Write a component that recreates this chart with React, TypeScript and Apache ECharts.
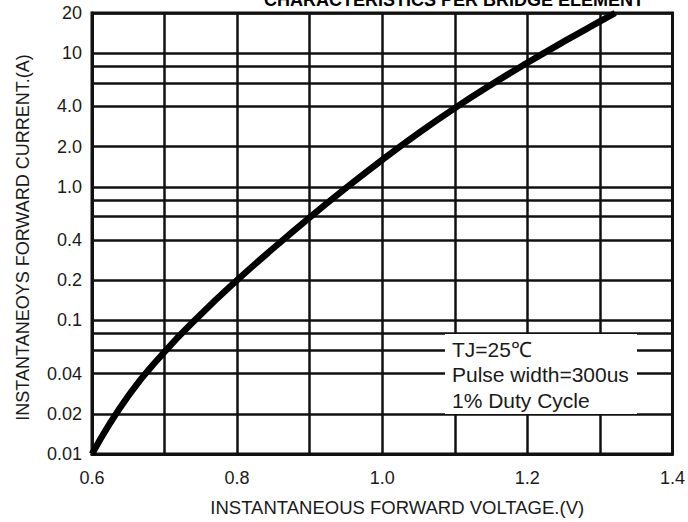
import React, { useEffect, useRef } from 'react';
import * as echarts from 'echarts';

// Forward voltage (V) and instantaneous forward current (A)
const voltage = [0.6, 0.65, 0.7, 0.75, 0.8, 0.85, 0.9, 0.95, 1.0, 1.05, 1.1, 1.15, 1.2, 1.25, 1.3, 1.321];
const current = [0.01, 0.0272, 0.0582, 0.111, 0.2, 0.3475, 0.59, 0.979, 1.59, 2.52, 3.88, 5.8, 8.48, 12.2, 17.3, 20];

// Horizontal grid values (log axis) and labelled values
const yGridValues = [0.01, 0.02, 0.04, 0.06, 0.08, 0.1, 0.2, 0.4, 0.6, 0.8, 1, 2, 4, 6, 8, 10, 20];
const yLabelValues = [0.01, 0.02, 0.04, 0.1, 0.2, 0.4, 1, 2, 4, 10, 20];
const yLabelTexts = ['0.01', '0.02', '0.04', '0.1', '0.2', '0.4', '1.0', '2.0', '4.0', '10', '20'];

const xLabelValues = [0.6, 0.8, 1.0, 1.2, 1.4];
const xLabelTexts = ['0.6', '0.8', '1.0', '1.2', '1.4'];

const noteLines = ['TJ=25℃', 'Pulse width=300us', '1% Duty Cycle'];
const titleText = 'CHARACTERISTICS PER BRIDGE ELEMENT';
const xName = 'INSTANTANEOUS FORWARD VOLTAGE.(V)';
const yName = 'INSTANTANEOYS FORWARD CURRENT.(A)';

const FONT = "'Liberation Sans', Arial, sans-serif";
const INK = '#111';

export default function App() {
  const ref = useRef<HTMLDivElement>(null);

  useEffect(() => {
    if (!ref.current) return;
    const chart = echarts.init(ref.current, undefined, { renderer: 'svg' });

    const noteTexts = noteLines.map((t, i) => ({
      type: 'text',
      x: 452,
      y: 349 + i * 25.5,
      z: 60,
      style: {
        text: t,
        font: `21px ${FONT}`,
        fill: '#1a1a1a',
        textAlign: 'left',
        textVerticalAlign: 'middle',
      },
    }));

    chart.setOption({
      animation: false,
      backgroundColor: '#fff',
      grid: {
        left: 92,
        right: 9,
        top: 13,
        bottom: 64,
        show: true,
        borderColor: INK,
        borderWidth: 3,
        backgroundColor: 'transparent',
      },
      xAxis: {
        type: 'value',
        min: 0.6,
        max: 1.4,
        interval: 0.1,
        name: xName,
        nameLocation: 'middle',
        nameGap: 44,
        nameTextStyle: { fontFamily: FONT, fontSize: 18.5, color: '#1a1a1a', padding: [0, 0, 0, 30] },
        axisLine: { show: true, lineStyle: { color: INK, width: 3 } },
        axisTick: { show: false },
        splitLine: { show: true, lineStyle: { color: INK, width: 2.5 } },
        axisLabel: {
          margin: 15,
          fontFamily: FONT,
          fontSize: 18,
          color: '#1a1a1a',
          showMinLabel: true,
          showMaxLabel: true,
          formatter: (v: number) => {
            const i = xLabelValues.findIndex((x) => Math.abs(x - v) < 1e-6);
            return i >= 0 ? xLabelTexts[i] : '';
          },
        },
      },
      yAxis: {
        type: 'log',
        logBase: 10,
        min: 0.01,
        max: 20,
        name: yName,
        nameLocation: 'middle',
        nameRotate: 90,
        nameGap: 60,
        nameTextStyle: { fontFamily: FONT, fontSize: 18, color: '#1a1a1a', padding: [0, 8, 0, 0] },
        axisLine: { show: true, lineStyle: { color: INK, width: 3 } },
        axisTick: { show: false, customValues: yGridValues },
        splitLine: { show: true, lineStyle: { color: INK, width: 2.5 } },
        minorSplitLine: { show: false },
        axisLabel: {
          customValues: yLabelValues,
          margin: 10,
          fontFamily: FONT,
          fontSize: 18,
          color: '#1a1a1a',
          showMinLabel: true,
          showMaxLabel: true,
          formatter: (v: number) => {
            const i = yLabelValues.findIndex((y) => Math.abs(y - v) / y < 1e-4);
            return i >= 0 ? yLabelTexts[i] : '';
          },
        },
      },
      series: [
        {
          type: 'line',
          data: voltage.map((v, i) => [v, current[i]]),
          smooth: 0.5,
          showSymbol: false,
          clip: true,
          lineStyle: { color: '#000', width: 6.5 },
          z: 5,
        },
      ],
      graphic: [
        {
          type: 'text',
          x: 454,
          y: 0,
          z: 60,
          style: {
            text: titleText,
            font: `bold 18px ${FONT}`,
            fill: '#000',
            textAlign: 'center',
            textVerticalAlign: 'middle',
          },
        },
        {
          type: 'rect',
          shape: { x: 445, y: 334, width: 192, height: 80 },
          z: 50,
          style: { fill: '#fff' },
        },
        ...noteTexts,
      ],
    });

    return () => chart.dispose();
  }, []);

  return (
    <div
      ref={ref}
      style={{ position: 'fixed', left: 0, top: 0, width: 688, height: 522, background: '#fff' }}
    />
  );
}
